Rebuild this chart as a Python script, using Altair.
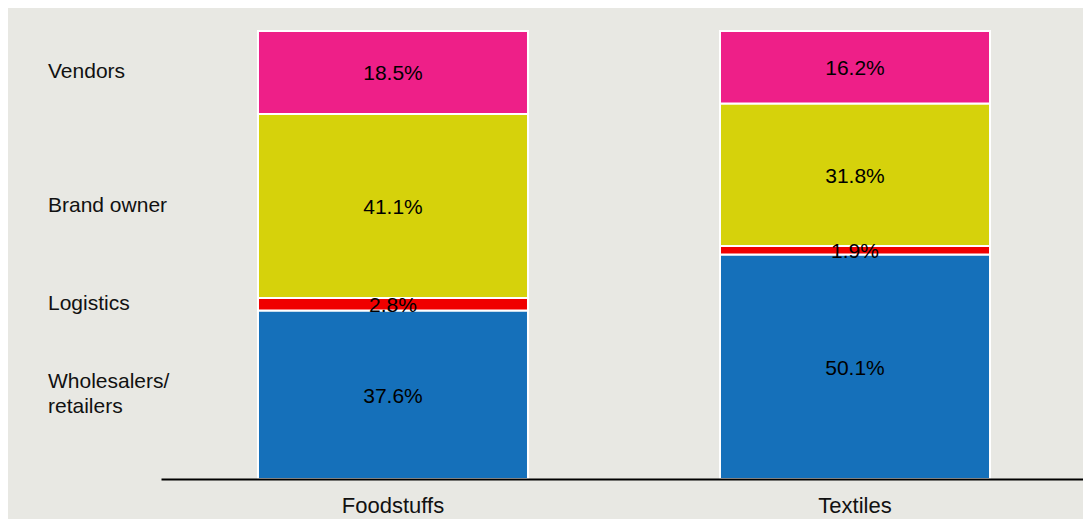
import altair as alt
import pandas as pd

sectors = ["Foodstuffs", "Textiles"]
segments = ["Wholesalers/\nretailers", "Logistics", "Brand owner", "Vendors"]
foodstuffs = [37.6, 2.8, 41.1, 18.5]
textiles = [50.1, 1.9, 31.8, 16.2]
colors = ["#1570ba", "#f00000", "#d6d20b", "#ee1f88"]

rows = []
for sector, vals in zip(sectors, [foodstuffs, textiles]):
    for i, (seg, v) in enumerate(zip(segments, vals)):
        rows.append({"sector": sector, "segment": seg, "order": i, "value": v,
                     "multiline": "\n" in seg})
df = pd.DataFrame(rows)

FONT = "Liberation Sans"

base = alt.Chart(df).transform_stack(
    stack="value",
    groupby=["sector"],
    as_=["y0", "y1"],
    sort=[alt.SortField("order", "ascending")],
).transform_calculate(
    mid="(datum.y0 + datum.y1) / 2",
    label="format(datum.value, '.1f') + '%'",
)

xscale = alt.Scale(paddingInner=0.4156, paddingOuter=0.2056, align=0.5105, round=False)
xenc = alt.X(
    "sector:N",
    sort=sectors,
    scale=xscale,
    axis=alt.Axis(
        title=None, labelAngle=0, ticks=False, domainColor="black",
        domainWidth=2, labelFontSize=22, labelColor="#111", labelPadding=16,
        labelFont=FONT, labelBaseline="top", zindex=1,
    ),
)
yscale = alt.Scale(domain=[0, 100], nice=False, zero=True)

bars = base.mark_bar(stroke="white", strokeWidth=2).encode(
    x=xenc,
    y=alt.Y("y0:Q", scale=yscale, axis=None),
    y2="y1:Q",
    color=alt.Color("segment:N", scale=alt.Scale(domain=segments, range=colors), legend=None),
)

texts = base.mark_text(fontSize=21, font=FONT, color="black", baseline="middle", dy=2).encode(
    x=alt.X("sector:N", sort=sectors),
    y=alt.Y("mid:Q", scale=yscale, axis=None),
    text="label:N",
)

side_base = base.transform_filter(alt.datum.sector == "Foodstuffs")

side_single = side_base.transform_filter("!datum.multiline").mark_text(
    align="left", baseline="middle", fontSize=21,
    font=FONT, color="#111",
).encode(
    x=alt.value(-113),
    y=alt.Y("mid:Q", scale=yscale, axis=None),
    text="segment:N",
)

side_multi = side_base.transform_filter("datum.multiline").mark_text(
    align="left", baseline="middle", fontSize=21, lineHeight=25, dy=-13,
    font=FONT, color="#111", lineBreak="\n",
).encode(
    x=alt.value(-113),
    y=alt.Y("mid:Q", scale=yscale, axis=None),
    text="segment:N",
)

chart = alt.layer(bars, texts, side_single, side_multi).properties(
    width=922,
    height=448,
    autosize="none",
    padding={"left": 153, "top": 23, "right": 0, "bottom": 42},
).configure(background="#e8e8e3").configure_view(stroke=None)

chart.save("out.html", embed_options={"renderer": "svg", "actions": False})
